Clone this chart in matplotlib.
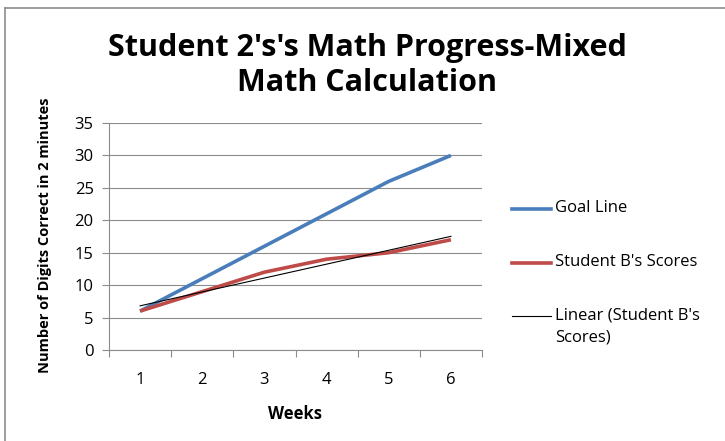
import matplotlib.pyplot as plt
from matplotlib.lines import Line2D
import numpy as np

plt.rcParams['font.family'] = ['Open Sans', 'DejaVu Sans']

# data
weeks = [1, 2, 3, 4, 5, 6]
goal_line = [6, 11, 16, 21, 26, 30]
student_scores = [6, 9, 12, 14, 15, 17]

# linear trendline of the student's scores (like Excel's "Linear" trend)
slope, intercept = np.polyfit(weeks, student_scores, 1)
trend = [slope * w + intercept for w in weeks]

W, H = 725, 441
fig = plt.figure(figsize=(W / 100, H / 100), dpi=100)
ax = fig.add_axes([109 / W, 1 - 350 / H, (482 - 109) / W, (350 - 123) / H])

ax.plot(weeks, goal_line, color='#4A7EBB', lw=2.6, solid_capstyle='butt', zorder=3)
ax.plot(weeks, student_scores, color='#BE4B48', lw=2.6, solid_capstyle='butt', zorder=3)
ax.plot(weeks, trend, color='black', lw=0.8, zorder=4)

ax.set_xlim(0.5, 6.5)
ax.set_ylim(0, 35)
ax.set_yticks(range(0, 36, 5))
ax.yaxis.grid(True, color='#8c8c8c', lw=0.8)
ax.set_axisbelow(True)

# category axis: tick marks between categories, labels at centres
ax.set_xticks(np.arange(0.5, 7, 1))
ax.set_xticklabels([])
ax.set_xticks(weeks, minor=True)
ax.set_xticklabels([str(w) for w in weeks], minor=True)
ax.tick_params(axis='x', which='major', length=5, color='#8c8c8c', direction='out')
ax.tick_params(axis='x', which='minor', length=0, pad=16, labelsize=12)
ax.tick_params(axis='y', length=5, color='#8c8c8c', labelsize=12, pad=6)

for s in ['top', 'right']:
    ax.spines[s].set_visible(False)
for s in ['left', 'bottom']:
    ax.spines[s].set_color('#8c8c8c')

ax.set_xlabel('Weeks', fontsize=12, fontweight='bold', labelpad=12)
fig.text(45 / W, 1 - 235 / H, 'Number of Digits Correct in 2 minutes', rotation=90,
         fontsize=10.5, fontweight='bold', ha='center', va='center')

fig.text(367 / W, 1 - 48 / H, "Student 2's's Math Progress-Mixed", fontsize=22,
         fontweight='bold', ha='center', va='center')
fig.text(367 / W, 1 - 83 / H, "Math Calculation", fontsize=22,
         fontweight='bold', ha='center', va='center')

# legend drawn by hand to keep the two-line label aligned to the first line
legend_items = [('Goal Line', '#4A7EBB', 2.6, 209),
                ("Student B's Scores", '#BE4B48', 2.6, 263),
                ("Linear (Student B's\nScores)", 'black', 0.8, 316)]
for label, col, lw, y in legend_items:
    fig.add_artist(Line2D([512 / W, 551 / W], [1 - y / H, 1 - y / H], color=col, lw=lw))
    fig.text(555 / W, 1 - (y - 9) / H, label, fontsize=12, va='top', ha='left',
             linespacing=1.5)

# outer chart border (only the top and left edges show)
fig.add_artist(Line2D([5 / W, 5 / W], [0, 1 - 8 / H], color='#8c8c8c', lw=1.2))
fig.add_artist(Line2D([5 / W, 1], [1 - 8 / H, 1 - 8 / H], color='#8c8c8c', lw=1.2))

fig.savefig('out.png', dpi=100)
